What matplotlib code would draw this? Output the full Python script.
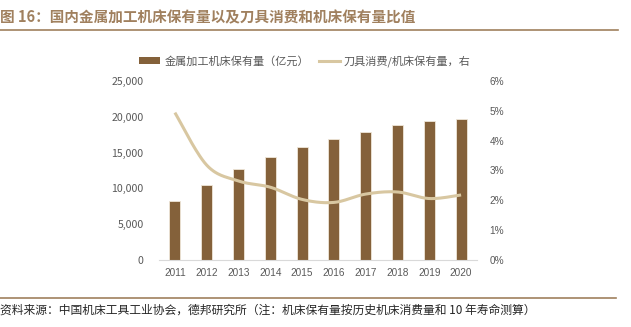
import numpy as np
import matplotlib
matplotlib.use("Agg")
import matplotlib.pyplot as plt
from matplotlib.ticker import FuncFormatter, FixedLocator
from matplotlib.lines import Line2D
from matplotlib.patches import Patch

plt.rcParams['font.family'] = ['Noto Sans CJK SC', 'DejaVu Sans']

years = ['2011', '2012', '2013', '2014', '2015', '2016', '2017', '2018', '2019', '2020']
stock = [8240, 10520, 12710, 14340, 15830, 16950, 17920, 18810, 19410, 19650]
ratio = [4.94, 3.18, 2.65, 2.44, 2.03, 1.93, 2.21, 2.28, 2.06, 2.18]
left_ticks = [0, 5000, 10000, 15000, 20000, 25000]
right_ticks = [0, 1, 2, 3, 4, 5, 6]

title = '图 16：国内金属加工机床保有量以及刀具消费和机床保有量比值'
label_bar = '金属加工机床保有量（亿元）'
label_line = '刀具消费/机床保有量，右'
source = '资料来源：中国机床工具工业协会，德邦研究所（注：机床保有量按历史机床消费量和 10 年寿命测算）'

BAR = '#84613A'
LINE = '#D8C7A1'
GRAY = '#595959'
BROWN = '#A0805E'

W, H = 631, 327
fig = plt.figure(figsize=(W / 100, H / 100), dpi=100)
ax = fig.add_axes([159 / W, 1 - 260 / H, (477 - 159) / W, (260 - 81) / H])

x = np.arange(len(years))
ax.bar(x, stock, width=0.34, color=BAR, edgecolor='#EFE6D8', linewidth=0.6, zorder=2)
ax.set_xlim(-0.5, len(years) - 0.5)
ax.set_ylim(0, 25000)
ax.yaxis.set_major_locator(FixedLocator(left_ticks))
ax.yaxis.set_major_formatter(FuncFormatter(lambda v, p: f'{int(v):,}'))
ax.set_xticks(x)
ax.set_xticklabels(years, family=['Liberation Sans'], fontsize=7.2, color=GRAY)
ax.tick_params(axis='x', length=0, pad=6)
ax.tick_params(axis='y', length=0, pad=11, labelsize=7.6, labelcolor=GRAY)
for s in ['top', 'right', 'left']:
    ax.spines[s].set_visible(False)
ax.spines['bottom'].set_color('#D9D9D9')
ax.spines['bottom'].set_linewidth(0.8)

ax2 = ax.twinx()
ax2.set_ylim(0, 6)
ax2.yaxis.set_major_locator(FixedLocator(right_ticks))
ax2.yaxis.set_major_formatter(FuncFormatter(lambda v, p: f'{int(v)}%'))
ax2.tick_params(axis='y', length=0, pad=9, labelsize=7.2, labelcolor=GRAY)
for lab in ax2.get_yticklabels():
    lab.set_family(['Liberation Sans'])
for s in ax2.spines.values():
    s.set_visible(False)

# smooth line (Catmull-Rom style, as in Excel smoothed lines)
def smooth(xs, ys, n=30):
    xs = np.asarray(xs, float); ys = np.asarray(ys, float)
    px = np.concatenate([[xs[0]], xs, [xs[-1]]])
    py = np.concatenate([[ys[0]], ys, [ys[-1]]])
    ox, oy = [], []
    for i in range(1, len(px) - 2):
        p0 = np.array([px[i - 1], py[i - 1]]); p1 = np.array([px[i], py[i]])
        p2 = np.array([px[i + 1], py[i + 1]]); p3 = np.array([px[i + 2], py[i + 2]])
        c1 = p1 + (p2 - p0) / 6
        c2 = p2 - (p3 - p1) / 6
        t = np.linspace(0, 1, n)[:, None]
        b = (1 - t) ** 3 * p1 + 3 * (1 - t) ** 2 * t * c1 + 3 * (1 - t) * t ** 2 * c2 + t ** 3 * p2
        ox.extend(b[:, 0]); oy.extend(b[:, 1])
    return ox, oy

sx, sy = smooth(x, ratio)
ax2.plot(sx, sy, color=LINE, linewidth=2.2, solid_capstyle='butt', zorder=3)

handles = [Patch(facecolor=BAR, edgecolor='none'),
           Line2D([], [], color=LINE, linewidth=2.2)]
fig.legend(handles, [label_bar, label_line], loc='center', bbox_to_anchor=(305 / W, 1 - 61 / H),
           ncol=2, frameon=False, fontsize=8, handlelength=1.9, handleheight=0.55,
           handletextpad=0.35, columnspacing=0.9, labelcolor=GRAY)

fig.text(0, 1 - 17 / H, title, fontsize=10.5, fontweight='bold', color=BROWN,
         ha='left', va='center')
fig.add_artist(Line2D([0, 618 / W], [1 - 29.5 / H, 1 - 29.5 / H], color=BROWN, linewidth=1.2))
fig.add_artist(Line2D([0, 616 / W], [1 - 297.5 / H, 1 - 297.5 / H], color=BROWN, linewidth=1.2))
fig.text(0, 1 - 310.5 / H, source, fontsize=8.5, color='#262626', ha='left', va='center')

fig.savefig('out.png', dpi=100)
